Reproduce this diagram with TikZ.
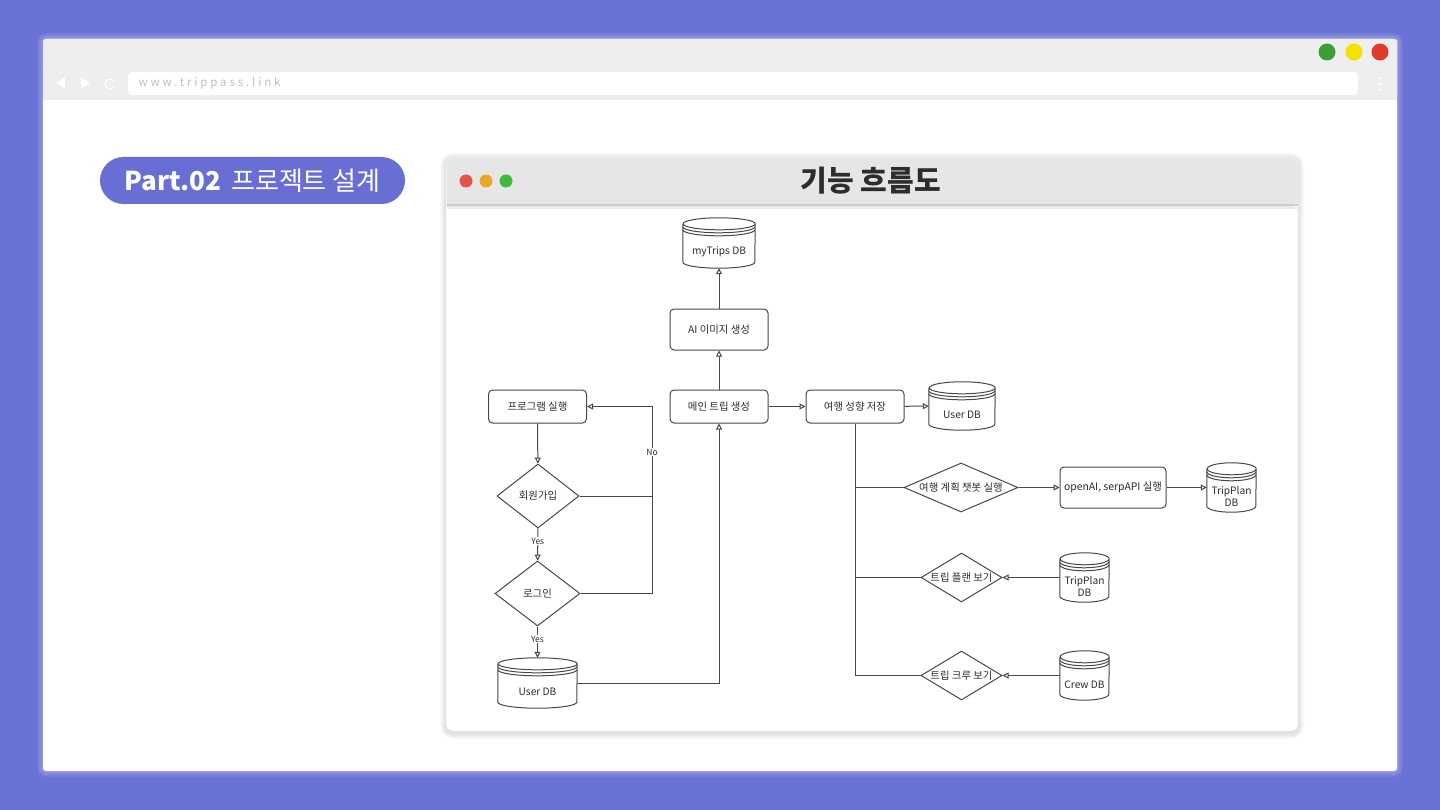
\documentclass[tikz,border=0pt]{standalone}
\usepackage{fontspec}
\setmainfont{Noto Sans CJK KR}
\usetikzlibrary{arrows.meta,shapes.geometric}
\definecolor{bgpurple}{RGB}{107,114,214}
\definecolor{pillblue}{RGB}{104,110,212}
\definecolor{chrome}{RGB}{238,238,238}
\definecolor{titlegray}{RGB}{230,230,230}
\definecolor{flowgray}{RGB}{72,72,72}
\definecolor{textgray}{RGB}{45,45,45}
% datastore: name, x, y, width, height, text
\newcommand{\dbnode}[6]{%
  \node[dbtext,minimum width=#4pt,minimum height=#5pt] (#1) at (#2,#3)
    {\raisebox{-9pt}[\height][\depth]{\shortstack{#6}}};
  \draw[flow] ([yshift=-6pt]#1.north west) -- ([yshift=6pt]#1.south west)
    arc[start angle=180,end angle=360,x radius=#4pt/2,y radius=6pt]
    -- ([yshift=-6pt]#1.north east)
    arc[start angle=0,end angle=360,x radius=#4pt/2,y radius=6pt];
  \foreach \d in {3,6}
    \draw[flow] ([yshift={-(6+\d)*1pt}]#1.north west)
      arc[start angle=180,end angle=360,x radius=#4pt/2,y radius=6pt];
}
\begin{document}
\begin{tikzpicture}[x=1pt,y=-1pt,
  flow/.style={draw=flowgray,line width=1pt},
  arr/.style={flow,-{Triangle[open,length=6pt,width=6pt]}},
  box/.style={flow,rounded corners=4pt,minimum width=98pt,minimum height=33pt,
    font=\fontsize{10.4}{12}\selectfont,text=textgray},
  dia/.style={flow,diamond,inner sep=0pt,font=\fontsize{10.4}{12}\selectfont,text=textgray},
  dbtext/.style={inner sep=0pt,font=\fontsize{10.2}{13}\selectfont,text=textgray},
  lbl/.style={fill=white,inner sep=1pt,font=\fontsize{8.5}{9}\selectfont,text=textgray}]
    \useasboundingbox (0,0) rectangle (1440,810);
    \fill[bgpurple] (0,0) rectangle (1440,810);
    % Browser window
    \foreach \s in {1,...,6}
        \fill[white,opacity=0.05,rounded corners={(3+\s)*1pt}] (43-\s,39-\s) rectangle (1397+\s,771+\s);
    \fill[white,rounded corners=3pt] (43,39) rectangle (1397,771);
    \fill[chrome] (43,42) [rounded corners=3pt] |- (720,39) -| (1397,42) [sharp corners] |- (43,100) -- cycle;
    \draw[black!8] (43,67) -- (1397,67);
    \fill[white,rounded corners=4pt] (128,72) rectangle (1358,95);
    \node[anchor=west,text=black!25,font=\fontsize{11.5}{12}\selectfont\addfontfeatures{LetterSpace=25}] (url) at (135,83.5) {www.trippass.link};
    \fill[white] (56,83) -- (65,77.5) -- (65,88.5) -- cycle;
    \fill[white] (81,77.5) -- (90,83) -- (81,88.5) -- cycle;
    \draw[white,line width=1.2pt] (113.8,80.8) arc[start angle=40,end angle=340,radius=5pt];
    \foreach \yy in {78,84,90}
        \fill[white] (1380,\yy) circle[radius=1.3pt];
    \foreach \x/\c in {1327/{rgb,255:red,58;green,158;blue,58},1354/{rgb,255:red,245;green,225;blue,0},1380/{rgb,255:red,224;green,58;blue,46}}
        \fill[fill=\c] (\x,52) circle[radius=8.5pt];
    % Section pill
    \node[fill=pillblue,rounded corners=23.5pt,minimum width=305pt,minimum height=47pt,text=white,
      font=\fontsize{26}{28}\selectfont] (part) at (252.5,180.5) {\textbf{Part.02}\, 프로젝트 설계};
    % Diagram window
    \foreach \s in {1,...,6}
        \fill[black,opacity=0.02,rounded corners={(6+\s)*1pt}] (446-\s,157-\s+2) rectangle (1298+\s,731+\s+2);
    \draw[black!12,fill=white,rounded corners=6pt] (446,157) rectangle (1298,731);
    \fill[titlegray] (446.5,207) [rounded corners=6pt] |- (872,157.5) -| (1297.5,207) [sharp corners] -- cycle;
    \draw[black!20,line width=2.5pt] (446.5,205) -- (1297.5,205);
    \draw[black!7,line width=2pt] (446.5,208.5) -- (1297.5,208.5);
    \foreach \x/\c in {466/{rgb,255:red,229;green,83;blue,75},486/{rgb,255:red,233;green,169;blue,37},506/{rgb,255:red,61;green,187;blue,61}}
        \fill[fill=\c] (\x,181) circle[radius=6.5pt];
    \node[text=textgray,font=\fontsize{29}{32}\selectfont\bfseries] (title) at (871,181) {기능 흐름도};
    % Flow nodes
    \node[box] (run) at (537.5,406.5) {프로그램 실행};
    \node[box] (main) at (719,406.5) {메인 트립 생성};
    \node[box,minimum height=41pt] (ai) at (719,329.5) {AI 이미지 생성};
    \node[box] (pref) at (855,406.5) {여행 성향 저장};
    \node[box,minimum width=106pt,minimum height=41pt] (api) at (1113,487.5) {openAI, serpAPI 실행};
    \node[dia,minimum width=82pt,minimum height=64pt] (join) at (538,496) {회원가입};
    \node[dia,minimum width=85pt,minimum height=65pt] (login) at (537.5,593.5) {로그인};
    \node[dia,minimum width=114pt,minimum height=49pt] (chat) at (961,487.5) {\makebox[0pt]{여행 계획 챗봇 실행}};
    \node[dia,minimum width=81pt,minimum height=49pt] (planv) at (961.5,577.5) {\makebox[0pt]{트립 플랜 보기}};
    \node[dia,minimum width=81pt,minimum height=49pt] (crewv) at (961.5,675.5) {\makebox[0pt]{트립 크루 보기}};
    % Datastores
    \dbnode{trips}{719}{243}{72}{50}{myTrips DB}
    \dbnode{userdbb}{962}{406}{66}{48}{User DB}
    \dbnode{userdba}{537.5}{683}{79}{50}{User DB}
    \dbnode{tripdba}{1231.5}{487.5}{49}{49}{TripPlan\\DB}
    \dbnode{tripdbb}{1084.5}{577.5}{49}{49}{TripPlan\\DB}
    \dbnode{crewdb}{1084.5}{675.5}{49}{49}{Crew DB}
    % Connectors
    \coordinate (nobend) at (652,406.5);
    \draw[arr] (run) -- (join);
    \draw[arr] (join) -- node[lbl,pos=0.4] (yesa) {Yes} (login);
    \draw[arr] (login) -- node[lbl,pos=0.4] (yesb) {Yes} (userdba);
    \draw[arr] (login.east) -| (nobend) -- (run.east);
    \draw[flow] (join.east) -- (join.east -| nobend);
    \node[lbl] (nolbl) at (652,452) {No};
    \draw[arr] (userdba.east) -| (main.south);
    \draw[arr] (main) -- (ai);
    \draw[arr] (ai) -- (trips);
    \draw[arr] (main) -- (pref);
    \draw[arr] (pref) -- (userdbb);
    \draw[flow] (pref.south) |- (crewv.west);
    \foreach \d in {chat,planv}
        \draw[flow] (pref.south |- \d.west) -- (\d.west);
    \draw[arr] (chat) -- (api);
    \draw[arr] (api) -- (tripdba);
    \draw[arr] (tripdbb) -- (planv);
    \draw[arr] (crewdb) -- (crewv);
\end{tikzpicture}
\end{document}
